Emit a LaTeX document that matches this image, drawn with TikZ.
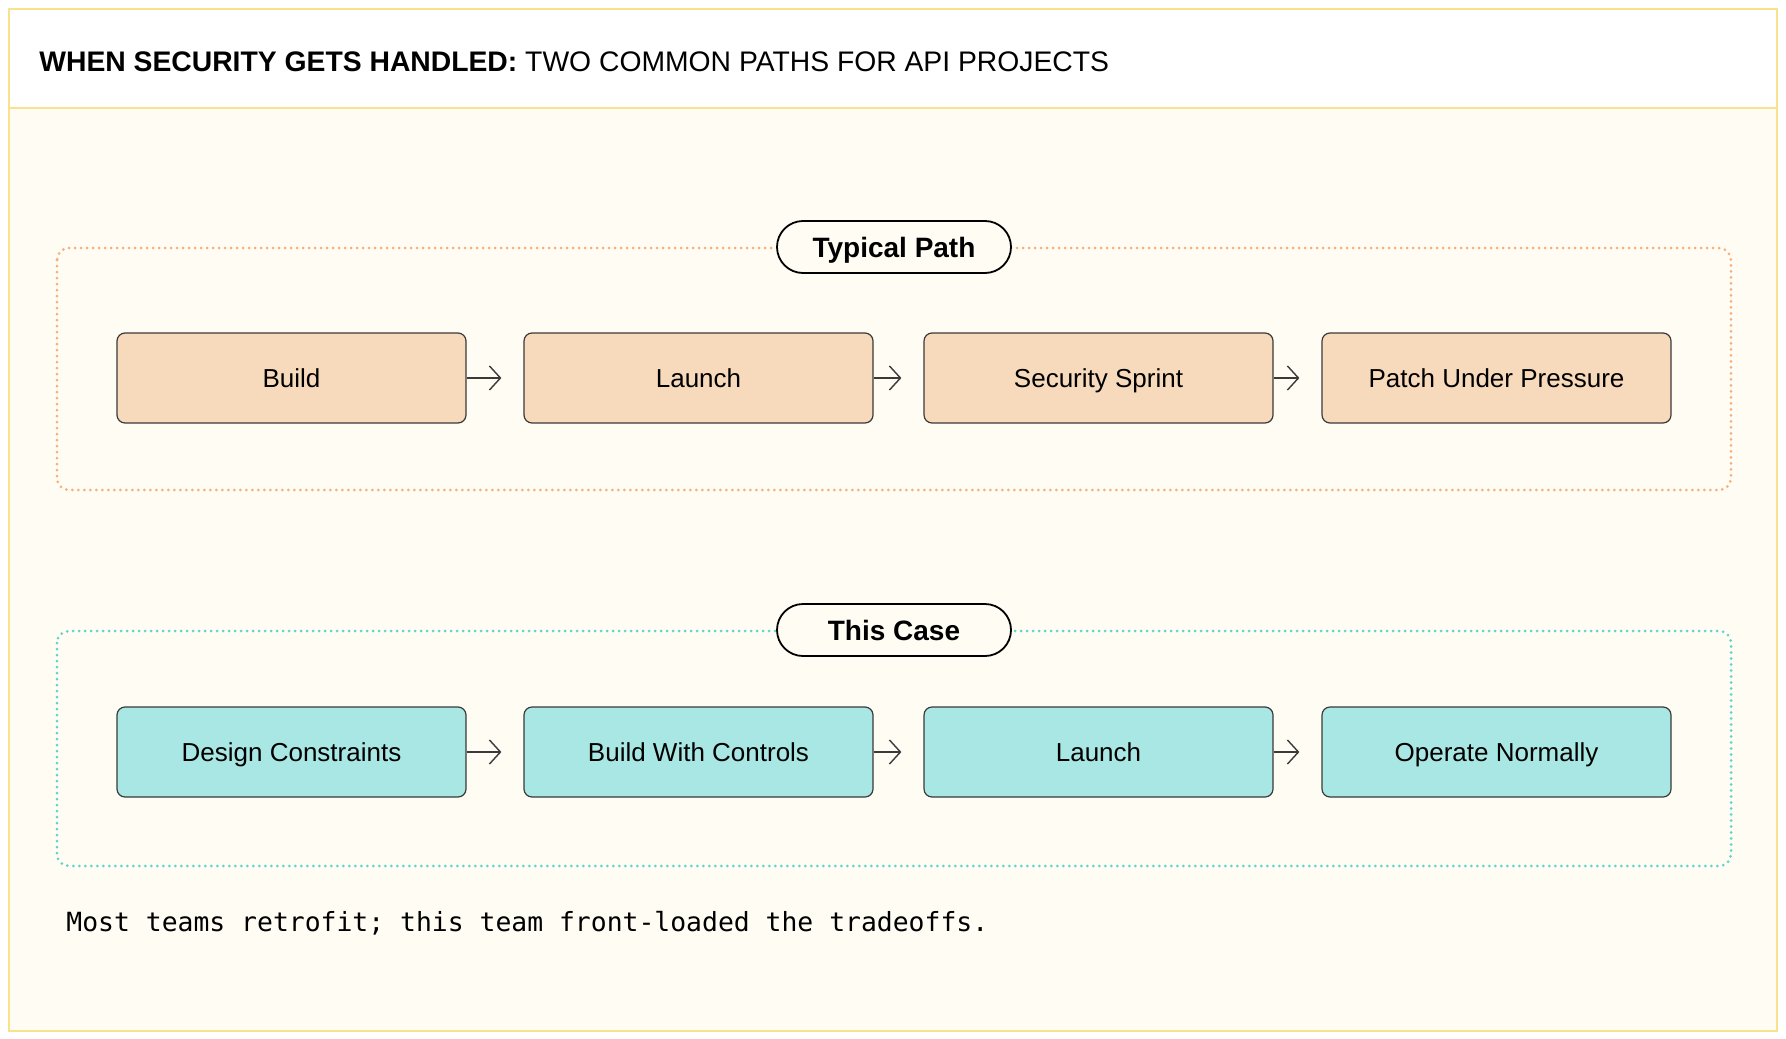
\documentclass[tikz,border=0pt]{standalone}
\usepackage{fontspec}
\setmainfont{Liberation Sans}
\setmonofont{DejaVu Sans Mono}
\usetikzlibrary{arrows.meta, positioning}

\definecolor{cream}{HTML}{FFFCF4}
\definecolor{framecol}{HTML}{F9E28E}
\definecolor{orangedot}{HTML}{F5B07A}
\definecolor{tealdot}{HTML}{5FD4CF}
\definecolor{orangefill}{HTML}{F7D9BB}
\definecolor{tealfill}{HTML}{A8E7E3}
\definecolor{boxline}{HTML}{3A3A3A}

\begin{document}
\begin{tikzpicture}[x=0.5pt, y=-0.5pt,
  flowbox/.style={draw=boxline, line width=0.6pt, rounded corners=4pt,
    minimum width=174.5pt, minimum height=45pt, inner sep=0pt,
    text height=9.3pt, text depth=0pt,
    font=\fontsize{13}{15}\selectfont},
  pill/.style={draw=black, line width=0.9pt, fill=cream, rounded corners=13pt,
    minimum width=117pt, minimum height=26pt, inner sep=0pt,
    text height=10pt, text depth=0pt,
    font=\bfseries\fontsize{14}{16}\selectfont},
  grp/.style={line width=1.5pt, dash pattern=on 0pt off 3pt, line cap=round,
    rounded corners=6pt},
  arr/.style={draw=boxline, line width=0.7pt,
    -{Straight Barb[length=5.5pt,width=12pt]}, shorten >=11pt}]
  \useasboundingbox (0,0) rectangle (1786,1038);
  \fill[white] (0,0) rectangle (1786,1038);
  % frame and header
  \fill[cream] (9,9) rectangle (1777,1031);
  \fill[white] (9,9) rectangle (1777,108);
  \draw[framecol, line width=1pt] (9,108) -- (1777,108);
  \draw[framecol, line width=1pt] (9,9) rectangle (1777,1031);
  \node[anchor=west, inner sep=0pt, font=\fontsize{14.15}{16}\selectfont] (title) at (39,62)
    {\textbf{WHEN SECURITY GETS HANDLED:} TWO COMMON PATHS FOR API PROJECTS};
  % typical path
  \draw[grp, draw=orangedot] (57,248) rectangle (1731,490);
  \node[pill] (typical) at (894,247) {Typical Path};
  \foreach \i/\x/\lbl in {
    1/291.5/Build,
    2/698.5/Launch,
    3/1098.5/Security Sprint,
    4/1496.5/Patch Under Pressure}
  {
    \node[flowbox, fill=orangefill] (t\i) at (\x,378) {\lbl};
  }
  \foreach \a/\b in {1/2, 2/3, 3/4}
    \draw[arr] (t\a.east) -- (t\b.west);
  % this case
  \draw[grp, draw=tealdot] (57,631) rectangle (1731,866);
  \node[pill] (thiscase) at (894,630) {This Case};
  \foreach \i/\x/\lbl in {
    1/291.5/Design Constraints,
    2/698.5/Build With Controls,
    3/1098.5/Launch,
    4/1496.5/Operate Normally}
  {
    \node[flowbox, fill=tealfill] (c\i) at (\x,752) {\lbl};
  }
  \foreach \a/\b in {1/2, 2/3, 3/4}
    \draw[arr] (c\a.east) -- (c\b.west);
  % footer note
  \node[anchor=west, inner sep=0pt, font=\ttfamily\fontsize{13.2}{15}\selectfont] (note) at (66,923)
    {Most teams retrofit; this team front-loaded the tradeoffs.};
\end{tikzpicture}
\end{document}
